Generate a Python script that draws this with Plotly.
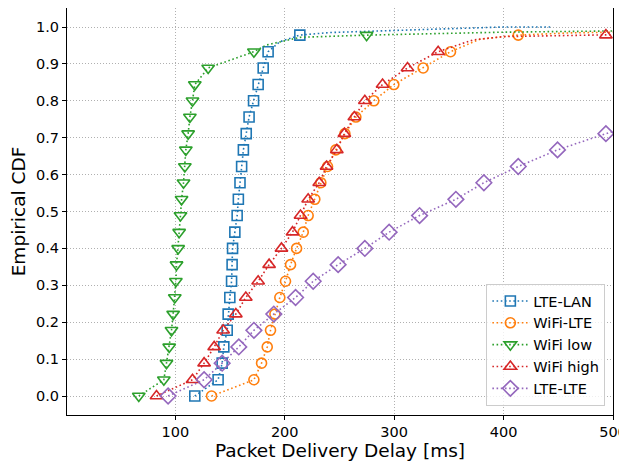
import plotly.graph_objects as go

# CDF levels at which markers are drawn
levels = [0.0, 0.044, 0.089, 0.133, 0.178, 0.222, 0.267, 0.311, 0.356, 0.4, 0.444, 0.489,
          0.533, 0.578, 0.622, 0.667, 0.711, 0.756, 0.8, 0.844, 0.889, 0.933, 0.978]

names = ["LTE-LAN", "WiFi-LTE", "WiFi low", "WiFi high", "LTE-LTE"]

# delay [ms] at each marker level
lte_lan = [117.8, 139.1, 142.8, 144.3, 147.4, 148.3, 149.8, 151.4, 151.9, 152.3, 154.4, 156.5,
           157.6, 159.1, 160.6, 162.2, 164.8, 167.4, 171.5, 175.7, 180.3, 184.8, 213.8]
wifi_lte = [133.1, 171.8, 178.8, 184.0, 187.0, 191.0, 195.5, 200.7, 205.3, 210.8, 216.9, 221.4,
            227.5, 233.0, 239.1, 246.7, 255.0, 265.0, 281.4, 299.7, 326.5, 351.5, 413.4]
wifi_low = [66.6, 89.5, 91.9, 94.4, 96.5, 98.0, 99.5, 100.5, 101.1, 102.6, 103.5, 104.7,
            105.7, 107.5, 108.7, 109.6, 111.7, 113.3, 115.7, 117.8, 130.0, 171.8, 274.8]
wifi_high = [82.8, 115.7, 126.3, 135.5, 143.7, 155.3, 164.4, 175.7, 185.7, 197.0, 207.1, 214.4,
             221.4, 231.5, 238.2, 247.6, 254.5, 263.6, 273.2, 289.4, 312.2, 340.2, 493.5]
lte_lte = [93.4, 126.3, 142.8, 158.0, 171.8, 190.0, 209.9, 226.0, 248.8, 273.2, 295.4, 323.2,
           356.4, 382.0, 413.4, 449.3, 493.5]

# extra samples of the continuous CDF line between / beyond markers (x, y)
line_extra = {
    "LTE-LAN": ([195.5, 241.0, 399.5, 444.0], [0.960, 0.985, 1.0, 1.0]),
    "WiFi-LTE": ([378.3, 460.0, 520.0], [0.967, 0.984, 0.987]),
    "WiFi low": ([183.0, 213.8, 400.0, 520.0], [0.951, 0.972, 0.986, 0.99]),
    "WiFi high": ([372.0, 399.6, 520.0], [0.965, 0.974, 0.98]),
    "LTE-LTE": ([520.0], [0.735]),
}

colors = ["#1f77b4", "#ff7f0e", "#2ca02c", "#d62728", "#9467bd"]
symbols = ["square-open", "circle-open", "triangle-down-open", "triangle-up-open", "diamond-open"]
sizes = [10, 10, 11, 11, 12]

xs_all = [lte_lan, wifi_lte, wifi_low, wifi_high, lte_lte]
DASH = "1.6px,2.6px"

fig = go.Figure()
for name, xs, c, s, sz in zip(names, xs_all, colors, symbols, sizes):
    ys = levels[:len(xs)]
    ex, ey = line_extra[name]
    pts = sorted(list(zip(xs, ys)) + list(zip(ex, ey)), key=lambda p: (p[0], p[1]))
    lx = [p[0] for p in pts]
    ly = [p[1] for p in pts]
    fig.add_trace(go.Scatter(x=lx, y=ly, mode="lines", showlegend=False, legendgroup=name,
                             line=dict(color=c, width=1.6, dash=DASH), hoverinfo="skip"))
    fig.add_trace(go.Scatter(x=xs, y=ys, mode="markers", showlegend=False, legendgroup=name, name=name,
                             marker=dict(symbol=s, size=sz, color=c, line=dict(width=1.6, color=c))))
    fig.add_trace(go.Scatter(x=[None], y=[None], mode="lines+markers", name=name, legendgroup=name,
                             line=dict(color=c, width=1.6, dash=DASH),
                             marker=dict(symbol=s, size=sz, color=c, line=dict(width=1.6, color=c))))

axis_common = dict(showline=True, mirror=True, linecolor="black", linewidth=1,
                   ticks="outside", ticklen=4, tickcolor="black", automargin=False,
                   showgrid=True, gridcolor="#b0b0b0", griddash="1px,2px", gridwidth=1,
                   zeroline=False, tickfont=dict(size=14.5, color="black"))

fig.update_xaxes(range=[1, 500], tickvals=[100, 200, 300, 400, 500],
                 title=dict(text="Packet Delivery Delay [ms]", font=dict(size=18.5, color="black"), standoff=4),
                 **axis_common)
fig.update_yaxes(range=[-0.0515, 1.0515], tickvals=[i / 10 for i in range(11)], tickformat=".1f",
                 title=dict(text="Empirical CDF", font=dict(size=18.5, color="black"), standoff=8),
                 **axis_common)

# the page body adds an 8px offset; the figure is sized so the plot lands where the reference has it
fig.update_layout(
    width=619, height=455,
    margin=dict(l=59, r=14, t=0, b=48),
    paper_bgcolor="white", plot_bgcolor="white",
    font=dict(family="DejaVu Sans", color="black"),
    legend=dict(x=0.986, y=0.022, xanchor="right", yanchor="bottom",
                bgcolor="rgba(255,255,255,0.8)", bordercolor="#cccccc", borderwidth=1,
                font=dict(size=14.5, color="black"), itemwidth=36, tracegroupgap=0),
)

fig.write_html("out.html")
